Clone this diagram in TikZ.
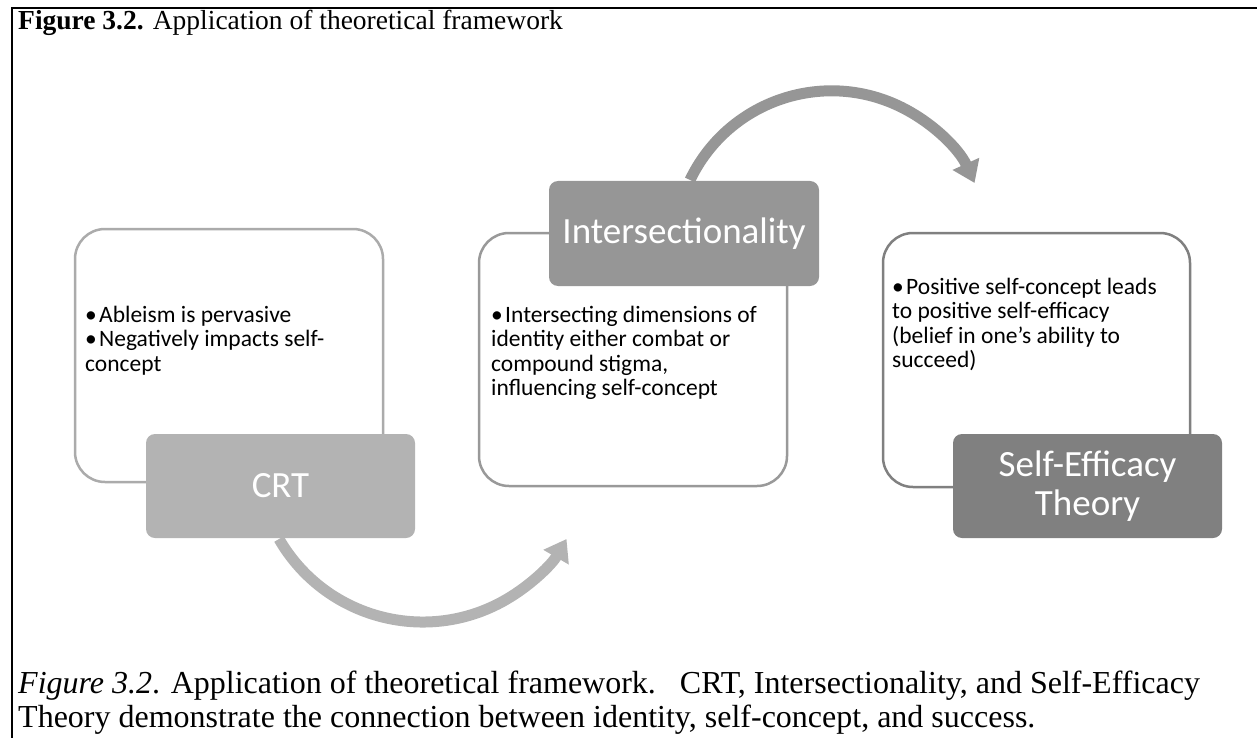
\documentclass[tikz,border=0pt]{standalone}
\usepackage{fontspec}
\setmainfont{Liberation Serif}
\newfontfamily\calib{Carlito}
\usetikzlibrary{arrows.meta}
\definecolor{fillA}{HTML}{B3B3B3}
\definecolor{fillB}{HTML}{969696}
\definecolor{fillC}{HTML}{808080}
\definecolor{lineA}{HTML}{ABABAB}
\definecolor{lineB}{HTML}{999999}
\definecolor{lineC}{HTML}{808080}
\newcommand\bulitem[1]{\par\hangindent=14pt\hangafter=1\noindent\makebox[14pt][l]{•}#1}
\newcommand\bodyblock[1]{\vtop{\hsize=300pt\parskip=0pt\parindent=0pt\raggedright\calib\fontsize{23.5}{24.5}\selectfont #1}}
\tikzset{
  outerbox/.style={draw, line width=2.5pt, fill=white, rounded corners=30pt, inner sep=0pt},
  headbox/.style={rounded corners=9pt, inner sep=0pt, text=white, align=center,
     font=\calib\fontsize{37}{39}\selectfont},
  bodytext/.style={anchor=base west, inner sep=0pt},
  flowarrow/.style={line width=11pt, -{Triangle[width=28pt,length=21pt]}},
}
\begin{document}
\begin{tikzpicture}[x=1pt,y=-1pt]
\useasboundingbox (0,0) rectangle (1257,738);
\draw[line width=2.5pt] (12,738) -- (12,8) -- (1258,8);
\node[anchor=base west, inner sep=0pt, font=\fontsize{27.5}{30}\selectfont] (title) at (18,30)
  {\textbf{Figure 3.2.} Application of theoretical framework};

% outer boxes
\node[outerbox, draw=lineA, minimum width=308pt, minimum height=253pt] (crtout) at (229,355.5) {};
\node[outerbox, draw=lineB, minimum width=308pt, minimum height=253pt] (intout) at (633,359.5) {};
\node[outerbox, draw=lineC, minimum width=307pt, minimum height=254pt] (seout) at (1036.5,360) {};

% body texts
\node[bodytext] (crttxt) at (85,322) {\bodyblock{\bulitem{Ableism is pervasive}\bulitem{Negatively impacts self-\\concept}}};
\node[bodytext] (inttxt) at (491,322) {\bodyblock{\bulitem{Intersecting dimensions of\\identity either combat or\\compound stigma,\\influencing self-concept}}};
\node[bodytext] (setxt) at (892,294) {\bodyblock{\bulitem{Positive self-concept leads\\to positive self-efficacy\\(belief in one’s ability to\\succeed)}}};

% head boxes
\node[headbox, fill=fillA, minimum width=269pt, minimum height=104pt] (crt) at (280.5,486) {CRT};
\node[headbox, fill=fillB, minimum width=270pt, minimum height=105pt] (int) at (684,233.5) {Intersectionality};
\node[headbox, fill=fillC, minimum width=269pt, minimum height=104pt] (se) at (1087.5,486) {Self-Efficacy\\Theory};

% arrows
\coordinate (a1s) at (279,539);
\coordinate (a2s) at (690,180);
\draw[flowarrow, color=fillA] (a1s) arc[start angle=150, end angle=30, radius=166];
\draw[flowarrow, color=fillB] (a2s) arc[start angle=205.6, end angle=335.6, radius=157];

% caption
\node[anchor=base west, inner sep=0pt, align=left, font=\fontsize{32}{34}\selectfont] (caption) at (18,727)
  {\textit{Figure 3.2}. Application of theoretical framework.\ \ \ CRT, Intersectionality, and Self-Efficacy\\
   Theory demonstrate the connection between identity, self-concept, and success.};
\end{tikzpicture}
\end{document}
